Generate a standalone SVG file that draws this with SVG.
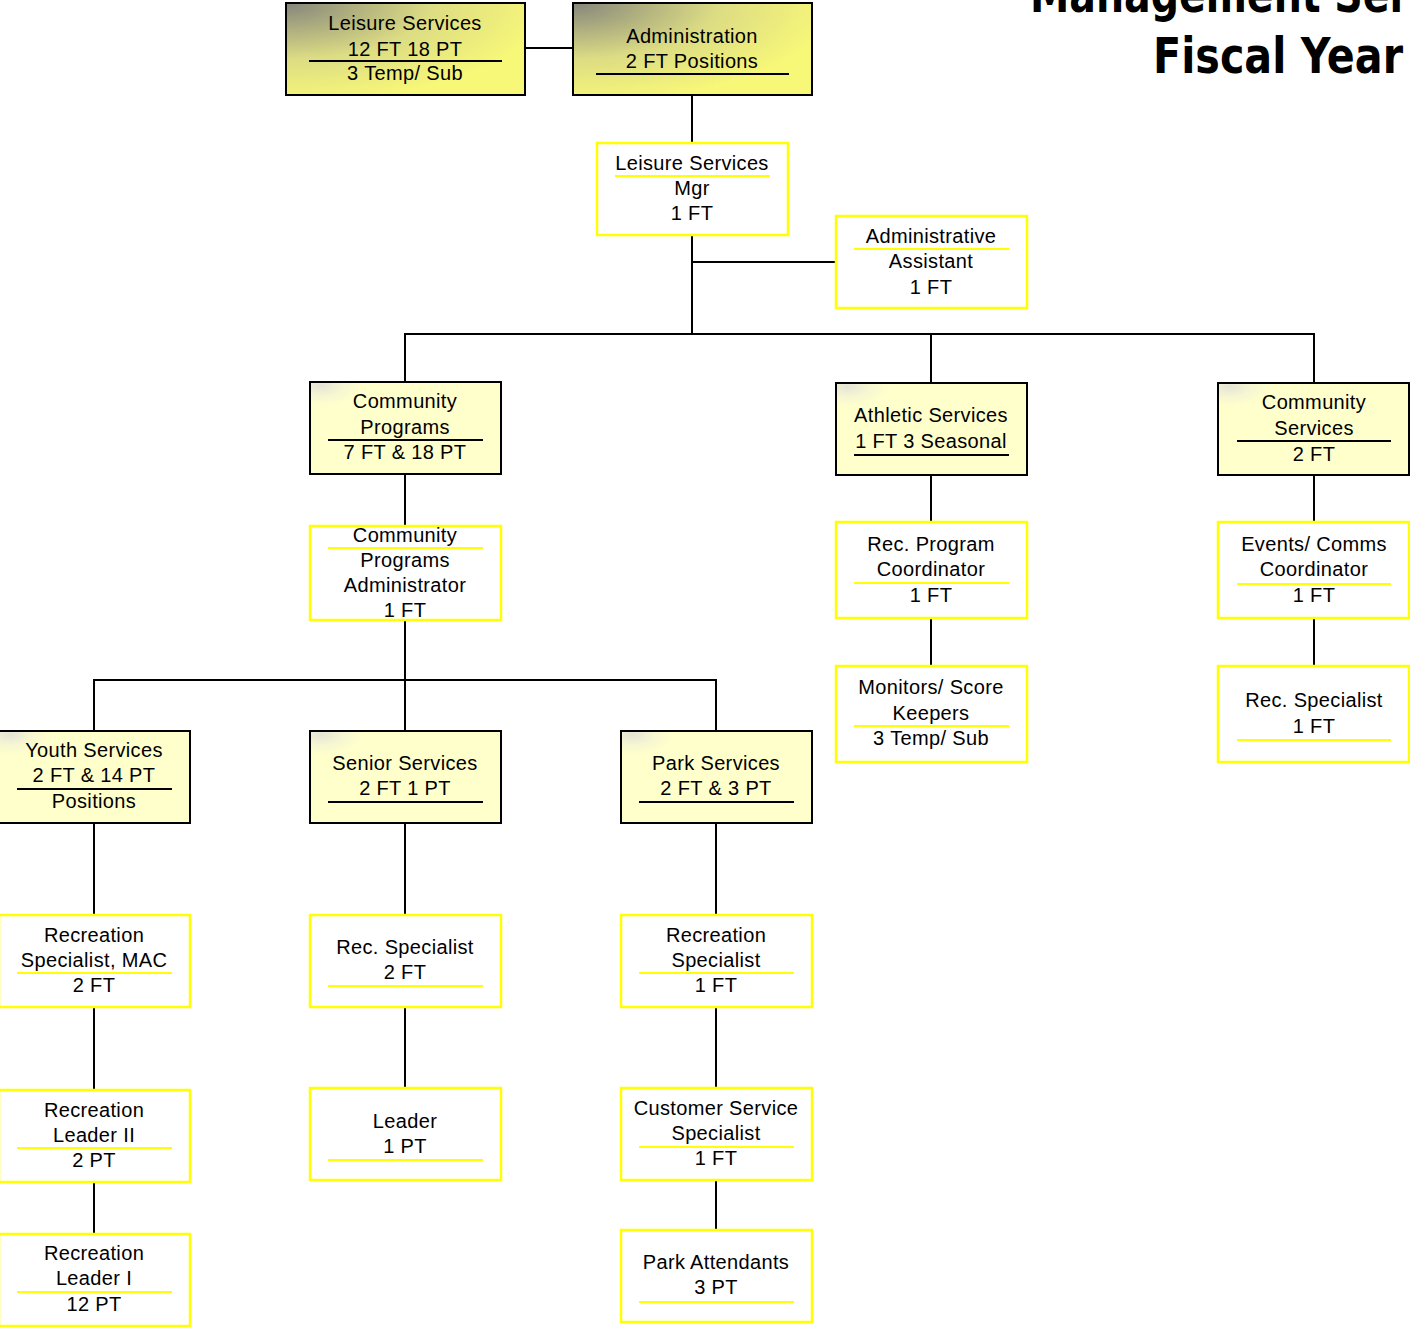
<svg xmlns="http://www.w3.org/2000/svg" width="1410" height="1328" viewBox="0 0 1410 1328">
  <style>
    .t { font-family: "Liberation Sans", Arial, sans-serif; font-size: 20px; letter-spacing: 0.35px; fill: #000; text-anchor: middle; }
    .title { font-family: "DejaVu Sans", "Liberation Sans", sans-serif; font-weight: bold; font-size: 50px; fill: #000; }
    .top { fill: url(#gTop); stroke: #000; stroke-width: 2; }
    .dept { fill: url(#gDept); stroke: #000; stroke-width: 2; }
    .pos { fill: #fff; stroke: #ffff00; stroke-width: 2.5; }
    .rb { stroke: #000; stroke-width: 2; }
    .ry { stroke: #ffff00; stroke-width: 2; }
    .conn line { stroke: #000; stroke-width: 2; }
  </style>
  <defs>
    <radialGradient id="gTop" cx="0" cy="0" r="1.1">
      <stop offset="0" stop-color="#85857c"/>
      <stop offset="0.55" stop-color="#dcdc84"/>
      <stop offset="1" stop-color="#f8f878"/>
    </radialGradient>
    <radialGradient id="gDept" cx="0.06" cy="0.04" r="0.22">
      <stop offset="0" stop-color="#e4e4d6"/>
      <stop offset="0.5" stop-color="#f6f6d2"/>
      <stop offset="1" stop-color="#ffffcc"/>
    </radialGradient>
  </defs>
  <rect width="1410" height="1328" fill="#fff"/>

  <!-- title -->
  <g id="title">
    <text class="title" x="1030" y="12" textLength="492" lengthAdjust="spacingAndGlyphs">Management Services</text>
    <text class="title" x="1153" y="73" textLength="250" lengthAdjust="spacingAndGlyphs">Fiscal Year</text>
  </g>

  <!-- connectors -->
  <g class="conn" id="connectors">
    <line x1="525" y1="48" x2="573" y2="48"/>
    <line x1="692" y1="95" x2="692" y2="143"/>
    <line x1="692" y1="235" x2="692" y2="334"/>
    <line x1="692" y1="262" x2="836" y2="262"/>
    <line x1="404" y1="334" x2="1315" y2="334"/>
    <line x1="405" y1="333" x2="405" y2="382"/>
    <line x1="931" y1="333" x2="931" y2="383"/>
    <line x1="1314" y1="333" x2="1314" y2="383"/>
    <line x1="405" y1="474" x2="405" y2="526"/>
    <line x1="405" y1="620" x2="405" y2="731"/>
    <line x1="93" y1="680" x2="717" y2="680"/>
    <line x1="94" y1="679" x2="94" y2="731"/>
    <line x1="716" y1="679" x2="716" y2="731"/>
    <line x1="94" y1="823" x2="94" y2="915"/>
    <line x1="94" y1="1007" x2="94" y2="1090"/>
    <line x1="94" y1="1182" x2="94" y2="1234"/>
    <line x1="405" y1="823" x2="405" y2="915"/>
    <line x1="405" y1="1007" x2="405" y2="1088"/>
    <line x1="716" y1="823" x2="716" y2="915"/>
    <line x1="716" y1="1007" x2="716" y2="1088"/>
    <line x1="716" y1="1180" x2="716" y2="1230"/>
    <line x1="931" y1="475" x2="931" y2="522"/>
    <line x1="931" y1="618" x2="931" y2="666"/>
    <line x1="1314" y1="475" x2="1314" y2="522"/>
    <line x1="1314" y1="618" x2="1314" y2="666"/>
  </g>

  <!-- top level -->
  <g id="leisure-services">
    <rect class="top" x="286" y="3" width="239" height="92"/>
    <text class="t" x="405" y="30">Leisure Services</text>
    <text class="t" x="405" y="56">12 FT 18 PT</text>
    <line class="rb" x1="309" y1="61" x2="502" y2="61"/>
    <text class="t" x="405" y="80">3 Temp/ Sub</text>
  </g>
  <g id="administration">
    <rect class="top" x="573" y="3" width="239" height="92"/>
    <text class="t" x="692" y="43">Administration</text>
    <text class="t" x="692" y="68">2 FT Positions</text>
    <line class="rb" x1="596" y1="74" x2="789" y2="74"/>
  </g>

  <g id="leisure-mgr">
    <rect class="pos" x="597" y="143" width="191" height="92"/>
    <text class="t" x="692" y="170">Leisure Services</text>
    <line class="ry" x1="615" y1="176" x2="770" y2="176"/>
    <text class="t" x="692" y="195">Mgr</text>
    <text class="t" x="692" y="220">1 FT</text>
  </g>
  <g id="admin-assistant">
    <rect class="pos" x="836" y="216" width="191" height="92"/>
    <text class="t" x="931" y="243">Administrative</text>
    <line class="ry" x1="854" y1="249" x2="1009" y2="249"/>
    <text class="t" x="931" y="268">Assistant</text>
    <text class="t" x="931" y="294">1 FT</text>
  </g>

  <!-- divisions -->
  <g id="community-programs">
    <rect class="dept" x="310" y="382" width="191" height="92"/>
    <text class="t" x="405" y="408">Community</text>
    <text class="t" x="405" y="434">Programs</text>
    <line class="rb" x1="328" y1="440" x2="483" y2="440"/>
    <text class="t" x="405" y="459">7 FT &amp; 18 PT</text>
  </g>
  <g id="athletic-services">
    <rect class="dept" x="836" y="383" width="191" height="92"/>
    <text class="t" x="931" y="422">Athletic Services</text>
    <text class="t" x="931" y="448">1 FT 3 Seasonal</text>
    <line class="rb" x1="854" y1="455" x2="1009" y2="455"/>
  </g>
  <g id="community-services">
    <rect class="dept" x="1218" y="383" width="191" height="92"/>
    <text class="t" x="1314" y="409">Community</text>
    <text class="t" x="1314" y="435">Services</text>
    <line class="rb" x1="1237" y1="441" x2="1391" y2="441"/>
    <text class="t" x="1314" y="461">2 FT</text>
  </g>

  <g id="cp-administrator">
    <rect class="pos" x="310" y="526" width="191" height="94"/>
    <text class="t" x="405" y="542">Community</text>
    <line class="ry" x1="328" y1="548" x2="483" y2="548"/>
    <text class="t" x="405" y="567">Programs</text>
    <text class="t" x="405" y="592">Administrator</text>
    <text class="t" x="405" y="617">1 FT</text>
  </g>

  <g id="rec-program-coordinator">
    <rect class="pos" x="836" y="522" width="191" height="96"/>
    <text class="t" x="931" y="551">Rec. Program</text>
    <text class="t" x="931" y="576">Coordinator</text>
    <line class="ry" x1="854" y1="583" x2="1009" y2="583"/>
    <text class="t" x="931" y="602">1 FT</text>
  </g>
  <g id="monitors">
    <rect class="pos" x="836" y="666" width="191" height="96"/>
    <text class="t" x="931" y="694">Monitors/ Score</text>
    <text class="t" x="931" y="720">Keepers</text>
    <line class="ry" x1="854" y1="726" x2="1009" y2="726"/>
    <text class="t" x="931" y="745">3 Temp/ Sub</text>
  </g>
  <g id="events-comms">
    <rect class="pos" x="1218" y="522" width="191" height="96"/>
    <text class="t" x="1314" y="551">Events/ Comms</text>
    <text class="t" x="1314" y="576">Coordinator</text>
    <line class="ry" x1="1237" y1="584" x2="1391" y2="584"/>
    <text class="t" x="1314" y="602">1 FT</text>
  </g>
  <g id="rec-specialist-cs">
    <rect class="pos" x="1218" y="666" width="191" height="96"/>
    <text class="t" x="1314" y="707">Rec. Specialist</text>
    <text class="t" x="1314" y="733">1 FT</text>
    <line class="ry" x1="1237" y1="740" x2="1391" y2="740"/>
  </g>

  <!-- program sections -->
  <g id="youth-services">
    <rect class="dept" x="-1" y="731" width="191" height="92"/>
    <text class="t" x="94" y="757">Youth Services</text>
    <text class="t" x="94" y="782">2 FT &amp; 14 PT</text>
    <line class="rb" x1="17" y1="789" x2="172" y2="789"/>
    <text class="t" x="94" y="808">Positions</text>
  </g>
  <g id="senior-services">
    <rect class="dept" x="310" y="731" width="191" height="92"/>
    <text class="t" x="405" y="770">Senior Services</text>
    <text class="t" x="405" y="795">2 FT 1 PT</text>
    <line class="rb" x1="328" y1="802" x2="483" y2="802"/>
  </g>
  <g id="park-services">
    <rect class="dept" x="621" y="731" width="191" height="92"/>
    <text class="t" x="716" y="770">Park Services</text>
    <text class="t" x="716" y="795">2 FT &amp; 3 PT</text>
    <line class="rb" x1="639" y1="802" x2="794" y2="802"/>
  </g>

  <g id="rec-specialist-mac">
    <rect class="pos" x="-1" y="915" width="191" height="92"/>
    <text class="t" x="94" y="942">Recreation</text>
    <text class="t" x="94" y="967">Specialist, MAC</text>
    <line class="ry" x1="17" y1="973" x2="172" y2="973"/>
    <text class="t" x="94" y="992">2 FT</text>
  </g>
  <g id="rec-leader-2">
    <rect class="pos" x="-1" y="1090" width="191" height="92"/>
    <text class="t" x="94" y="1117">Recreation</text>
    <text class="t" x="94" y="1142">Leader II</text>
    <line class="ry" x1="17" y1="1148" x2="172" y2="1148"/>
    <text class="t" x="94" y="1167">2 PT</text>
  </g>
  <g id="rec-leader-1">
    <rect class="pos" x="-1" y="1234" width="191" height="92"/>
    <text class="t" x="94" y="1260">Recreation</text>
    <text class="t" x="94" y="1285">Leader I</text>
    <line class="ry" x1="17" y1="1292" x2="172" y2="1292"/>
    <text class="t" x="94" y="1311">12 PT</text>
  </g>

  <g id="rec-specialist-senior">
    <rect class="pos" x="310" y="915" width="191" height="92"/>
    <text class="t" x="405" y="954">Rec. Specialist</text>
    <text class="t" x="405" y="979">2 FT</text>
    <line class="ry" x1="328" y1="986" x2="483" y2="986"/>
  </g>
  <g id="leader">
    <rect class="pos" x="310" y="1088" width="191" height="92"/>
    <text class="t" x="405" y="1128">Leader</text>
    <text class="t" x="405" y="1153">1 PT</text>
    <line class="ry" x1="328" y1="1160" x2="483" y2="1160"/>
  </g>

  <g id="rec-specialist-park">
    <rect class="pos" x="621" y="915" width="191" height="92"/>
    <text class="t" x="716" y="942">Recreation</text>
    <text class="t" x="716" y="967">Specialist</text>
    <line class="ry" x1="639" y1="973" x2="794" y2="973"/>
    <text class="t" x="716" y="992">1 FT</text>
  </g>
  <g id="customer-service">
    <rect class="pos" x="621" y="1088" width="191" height="92"/>
    <text class="t" x="716" y="1115">Customer Service</text>
    <text class="t" x="716" y="1140">Specialist</text>
    <line class="ry" x1="639" y1="1147" x2="794" y2="1147"/>
    <text class="t" x="716" y="1165">1 FT</text>
  </g>
  <g id="park-attendants">
    <rect class="pos" x="621" y="1230" width="191" height="92"/>
    <text class="t" x="716" y="1269">Park Attendants</text>
    <text class="t" x="716" y="1294">3 PT</text>
    <line class="ry" x1="639" y1="1302" x2="794" y2="1302"/>
  </g>
</svg>
